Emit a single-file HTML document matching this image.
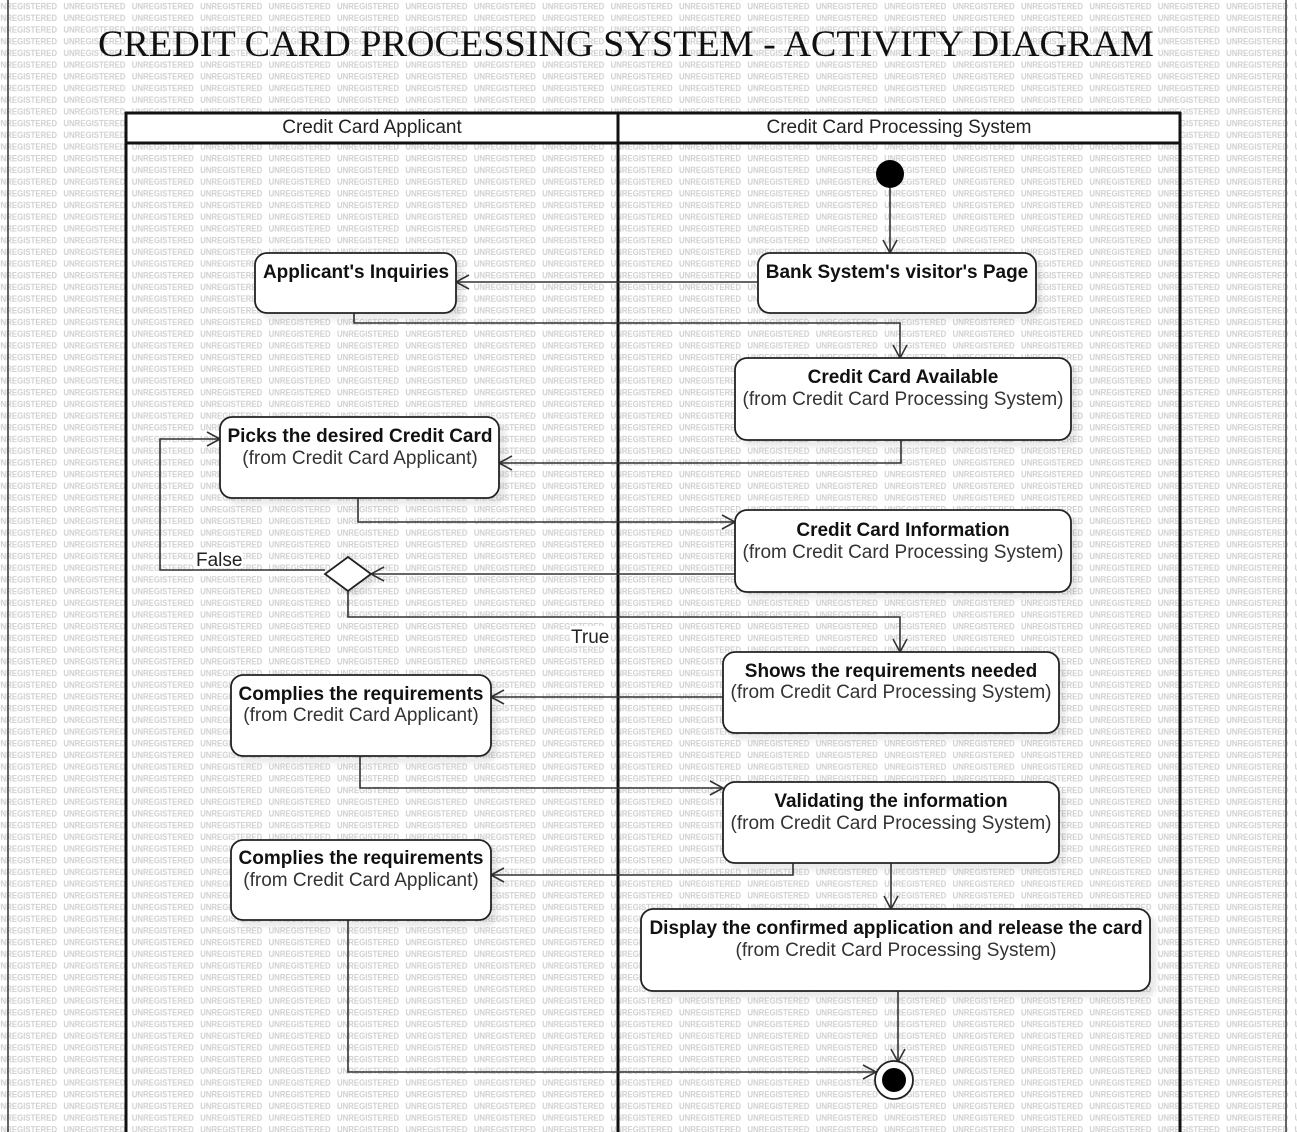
<!DOCTYPE html>
<html><head><meta charset="utf-8"><style>
html,body{margin:0;padding:0;background:#fff}
svg{display:block}
</style></head><body>
<svg width="1297" height="1132" viewBox="0 0 1297 1132" xmlns="http://www.w3.org/2000/svg" font-family="Liberation Sans, sans-serif">
<defs>
<pattern id="wm" x="-5" y="0" width="68.4" height="11.7" patternUnits="userSpaceOnUse">
<text x="0" y="9.5" font-size="8.6" font-weight="bold" fill="#d0d0d0" textLength="62" lengthAdjust="spacingAndGlyphs">UNREGISTERED</text>
</pattern>
<filter id="sh" x="-10%" y="-10%" width="130%" height="140%"><feDropShadow dx="6" dy="6" stdDeviation="2" flood-color="#000" flood-opacity="0.08"/></filter>
</defs>
<rect width="1297" height="1132" fill="#fff"/>
<rect width="1297" height="1132" fill="url(#wm)"/>
<line x1="8" y1="0" x2="8" y2="1132" stroke="#333" stroke-width="1.5"/>
<line x1="1286" y1="0" x2="1286" y2="1132" stroke="#333" stroke-width="1.5"/>
<text x="98" y="56" font-family="Liberation Serif, serif" font-size="37" fill="#111" textLength="1056" lengthAdjust="spacingAndGlyphs">CREDIT CARD PROCESSING SYSTEM - ACTIVITY DIAGRAM</text>
<rect x="126" y="113" width="1054" height="30" fill="#fff"/>
<g stroke="#111" stroke-width="3" fill="none">
<line x1="125" y1="113" x2="1181" y2="113"/>
<line x1="125" y1="143" x2="1181" y2="143"/>
<line x1="126" y1="112" x2="126" y2="1132"/>
<line x1="618" y1="112" x2="618" y2="1132"/>
<line x1="1180" y1="112" x2="1180" y2="1132"/>
</g>
<text x="372" y="133" font-size="19" text-anchor="middle" fill="#222">Credit Card Applicant</text>
<text x="899" y="133" font-size="19" text-anchor="middle" fill="#222">Credit Card Processing System</text>
<g stroke="#333" stroke-width="1.6" fill="none">
<polyline points="890,188 890,253"/><polyline points="883,240 890,253 897,240"/>
<polyline points="758,282 456,282"/><polyline points="469,275 456,282 469,289"/>
<polyline points="354,313 354,323 900,323 900,358"/><polyline points="893,345 900,358 907,345"/>
<polyline points="901,440 901,463 499,463"/><polyline points="512,456 499,463 512,470"/>
<polyline points="358,498 358,522 735,522"/><polyline points="722,515 735,522 722,529"/>
<polyline points="735,574 371,574"/><polyline points="384,567 371,574 384,581"/>
<polyline points="325,570 160,570 160,439 220,439"/><polyline points="207,432 220,439 207,446"/>
<polyline points="348,591 348,617 900,617 900,652"/><polyline points="893,639 900,652 907,639"/>
<polyline points="723,697 491,697"/><polyline points="504,690 491,697 504,704"/>
<polyline points="360,756 360,788 723,788"/><polyline points="710,781 723,788 710,795"/>
<polyline points="793,863 793,875 491,875"/><polyline points="504,868 491,875 504,882"/>
<polyline points="891,863 891,909"/><polyline points="884,896 891,909 898,896"/>
<polyline points="348,920 348,1072 876,1072"/><polyline points="863,1065 876,1072 863,1079"/>
<polyline points="898,991 898,1062"/><polyline points="891,1049 898,1062 905,1049"/>
</g>
<rect x="195" y="548" width="48" height="20" fill="#fff"/>
<text x="196" y="566" font-size="19" fill="#222">False</text>
<rect x="570" y="626" width="40" height="20" fill="#fff"/>
<text x="571" y="643" font-size="19" fill="#222">True</text>
<g fill="#fff" stroke="#222" stroke-width="1.8" filter="url(#sh)">
<rect x="255" y="253" width="201" height="60" rx="12"/>
<rect x="758" y="253" width="278" height="60" rx="12"/>
<rect x="735" y="358" width="336" height="82" rx="12"/>
<rect x="220" y="417" width="279" height="81" rx="12"/>
<rect x="735" y="510" width="336" height="82" rx="12"/>
<polygon points="348,557 371,574 348,591 325,574"/>
<rect x="723" y="652" width="336" height="81" rx="12"/>
<rect x="231" y="675" width="260" height="81" rx="12"/>
<rect x="723" y="782" width="336" height="81" rx="12"/>
<rect x="231" y="840" width="260" height="80" rx="12"/>
<rect x="641" y="909" width="509" height="82" rx="12"/>
</g>
<circle cx="890" cy="174" r="14" fill="#000"/>
<circle cx="894" cy="1080" r="19" fill="#fff" stroke="#222" stroke-width="1.8"/>
<circle cx="894" cy="1080" r="12" fill="#000"/>
<g font-size="19" text-anchor="middle" fill="#111">
<text x="356" y="278" font-weight="bold">Applicant's Inquiries</text>
<text x="897" y="278" font-weight="bold">Bank System's visitor's Page</text>
<text x="903" y="383" font-weight="bold">Credit Card Available</text>
<text x="903" y="405" fill="#333">(from Credit Card Processing System)</text>
<text x="360" y="442" font-weight="bold">Picks the desired Credit Card</text>
<text x="360" y="464" fill="#333">(from Credit Card Applicant)</text>
<text x="903" y="536" font-weight="bold">Credit Card Information</text>
<text x="903" y="558" fill="#333">(from Credit Card Processing System)</text>
<text x="891" y="677" font-weight="bold">Shows the requirements needed</text>
<text x="891" y="698" fill="#333">(from Credit Card Processing System)</text>
<text x="361" y="700" font-weight="bold">Complies the requirements</text>
<text x="361" y="721" fill="#333">(from Credit Card Applicant)</text>
<text x="891" y="807" font-weight="bold">Validating the information</text>
<text x="891" y="829" fill="#333">(from Credit Card Processing System)</text>
<text x="361" y="864" font-weight="bold">Complies the requirements</text>
<text x="361" y="886" fill="#333">(from Credit Card Applicant)</text>
<text x="896" y="934" font-weight="bold">Display the confirmed application and release the card</text>
<text x="896" y="956" fill="#333">(from Credit Card Processing System)</text>
</g>
</svg>
</body></html>
